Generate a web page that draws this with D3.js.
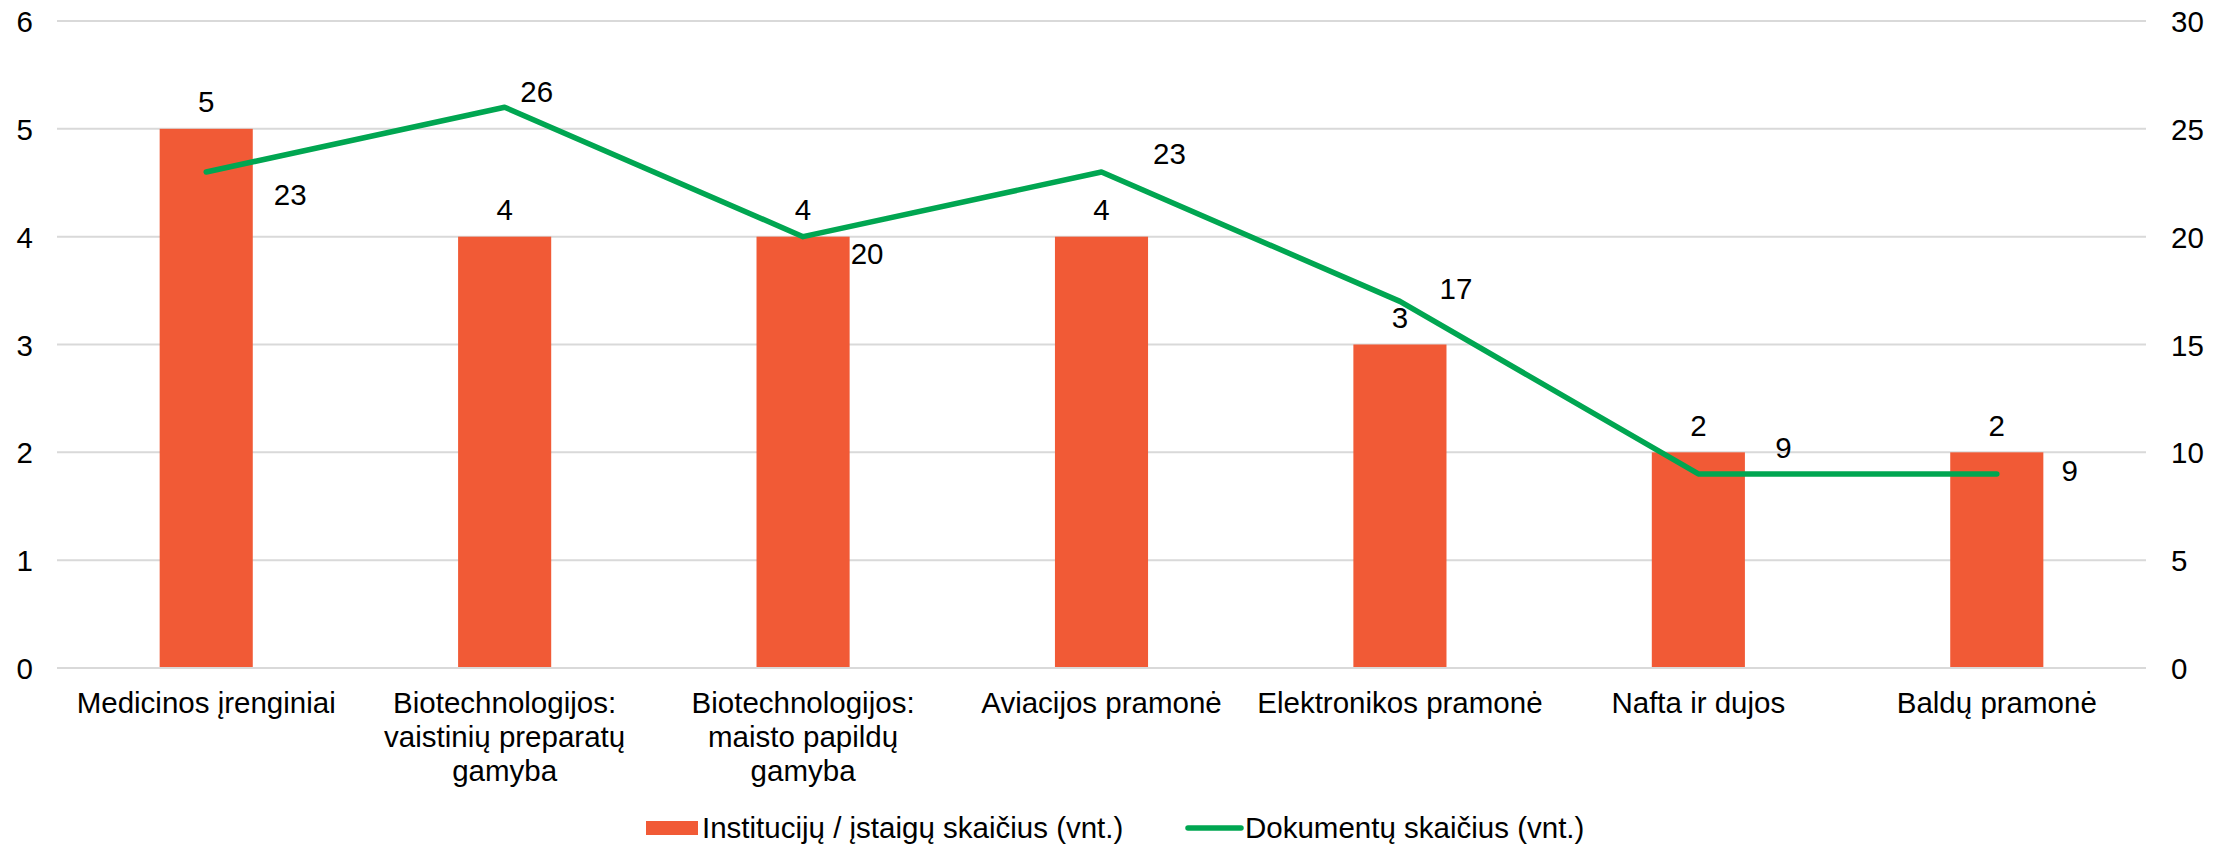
<!DOCTYPE html>
<html>
<head>
<meta charset="utf-8">
<script src="https://cdn.jsdelivr.net/npm/d3@7"></script>
<style>
  html, body { margin: 0; padding: 0; background: #fff; }
  svg text { font-family: "Liberation Sans", Arial, sans-serif; fill: #000; }
</style>
</head>
<body>
<svg id="chart" width="2234" height="845"></svg>
<script>
// ---- data ----
const categories = [
  "Medicinos įrenginiai",
  "Biotechnologijos: vaistinių preparatų gamyba",
  "Biotechnologijos: maisto papildų gamyba",
  "Aviacijos pramonė",
  "Elektronikos pramonė",
  "Nafta ir dujos",
  "Baldų pramonė"
];
const categoryLines = [
  ["Medicinos įrenginiai"],
  ["Biotechnologijos:", "vaistinių preparatų", "gamyba"],
  ["Biotechnologijos:", "maisto papildų", "gamyba"],
  ["Aviacijos pramonė"],
  ["Elektronikos pramonė"],
  ["Nafta ir dujos"],
  ["Baldų pramonė"]
];
const institutions = [5, 4, 4, 4, 3, 2, 2];
const documents = [23, 26, 20, 23, 17, 9, 9];
const leftTicks = [0, 1, 2, 3, 4, 5, 6];
const rightTicks = [0, 5, 10, 15, 20, 25, 30];
const seriesNames = ["Institucijų / įstaigų skaičius (vnt.)", "Dokumentų skaičius (vnt.)"];

// label offsets for line labels (style, not data)
const lineLabelOffsets = [[84, 22], [32, -16], [64, 17], [68, -19], [56, -13], [85, -27], [73, -4]];

const barColor = "#F15A36";
const lineColor = "#00A651";
const gridColor = "#D9D9D9";
const fontSize = 29.5;

const svg = d3.select("#chart");
const pLeft = 57, pRight = 2146, pTop = 21, pBottom = 668;

const x = d3.scaleBand().domain(categories).range([pLeft, pRight])
  .paddingInner(0.688).paddingOuter(0.344);
const yL = d3.scaleLinear().domain([0, 6]).range([pBottom, pTop]);
const yR = d3.scaleLinear().domain([0, 30]).range([pBottom, pTop]);

// gridlines
svg.append("g").selectAll("line").data(leftTicks).join("line")
  .attr("x1", pLeft).attr("x2", pRight)
  .attr("y1", d => yL(d)).attr("y2", d => yL(d))
  .attr("stroke", gridColor).attr("stroke-width", 2);

// left axis
const axL = d3.axisLeft(yL).tickValues(leftTicks).tickSize(0).tickPadding(0).tickFormat(d3.format("d"));
const gL = svg.append("g").attr("transform", `translate(33,0)`).call(axL);
gL.select(".domain").remove();
gL.selectAll("text").attr("font-size", fontSize).attr("dy", "0.36em")
  .style("font-family", "'Liberation Sans', Arial, sans-serif").attr("fill", "#000");

// right axis
const axR = d3.axisRight(yR).tickValues(rightTicks).tickSize(0).tickPadding(0).tickFormat(d3.format("d"));
const gR = svg.append("g").attr("transform", `translate(2171,0)`).call(axR);
gR.select(".domain").remove();
gR.selectAll("text").attr("font-size", fontSize).attr("dy", "0.36em")
  .style("font-family", "'Liberation Sans', Arial, sans-serif").attr("fill", "#000");

// bars
svg.append("g").selectAll("rect").data(institutions).join("rect")
  .attr("x", (d, i) => x(categories[i]))
  .attr("width", x.bandwidth())
  .attr("y", d => yL(d))
  .attr("height", d => pBottom - yL(d))
  .attr("fill", barColor);

// gridline at 0 on top of bars
svg.append("line").attr("x1", pLeft).attr("x2", pRight)
  .attr("y1", yL(0)).attr("y2", yL(0))
  .attr("stroke", gridColor).attr("stroke-width", 2);

// bar labels
svg.append("g").selectAll("text").data(institutions).join("text")
  .attr("x", (d, i) => x(categories[i]) + x.bandwidth() / 2)
  .attr("y", d => yL(d) - 27)
  .attr("dy", "0.36em")
  .attr("text-anchor", "middle")
  .attr("font-size", fontSize)
  .text(d => d);

// line
const cx = i => x(categories[i]) + x.bandwidth() / 2;
const line = d3.line().x((d, i) => cx(i)).y(d => yR(d));
svg.append("path").datum(documents)
  .attr("d", line)
  .attr("fill", "none")
  .attr("stroke", lineColor)
  .attr("stroke-width", 5.5)
  .attr("stroke-linecap", "round")
  .attr("stroke-linejoin", "round");

// line labels
svg.append("g").selectAll("text").data(documents).join("text")
  .attr("x", (d, i) => cx(i) + lineLabelOffsets[i][0])
  .attr("y", (d, i) => yR(d) + lineLabelOffsets[i][1])
  .attr("dy", "0.36em")
  .attr("text-anchor", "middle")
  .attr("font-size", fontSize)
  .text(d => d);

// x labels
const xl = svg.append("g");
categoryLines.forEach((lines, i) => {
  const t = xl.append("text")
    .attr("text-anchor", "middle")
    .attr("font-size", fontSize);
  lines.forEach((ln, j) => {
    t.append("tspan").attr("x", cx(i)).attr("y", 713 + j * 34).text(ln);
  });
});

// legend
const lg = svg.append("g");
lg.append("rect").attr("x", 646).attr("y", 821).attr("width", 52).attr("height", 14).attr("fill", barColor);
lg.append("text").attr("x", 702).attr("y", 838).attr("font-size", fontSize).text(seriesNames[0]);
lg.append("line").attr("x1", 1188).attr("x2", 1241).attr("y1", 828).attr("y2", 828)
  .attr("stroke", lineColor).attr("stroke-width", 5.5).attr("stroke-linecap", "round");
lg.append("text").attr("x", 1245).attr("y", 838).attr("font-size", fontSize).text(seriesNames[1]);
</script>
</body>
</html>
